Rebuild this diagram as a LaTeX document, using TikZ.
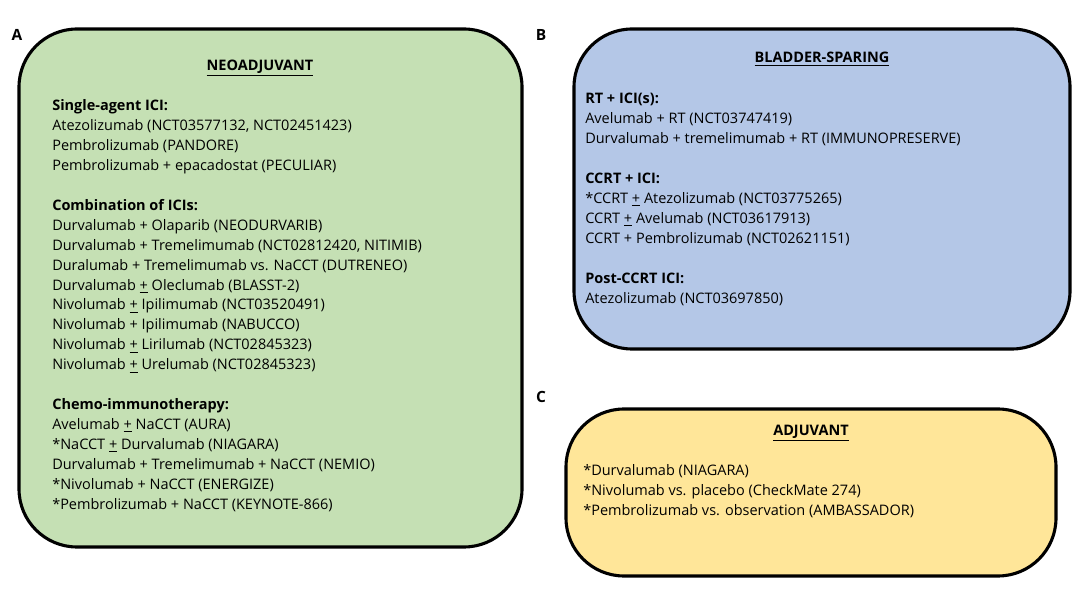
\documentclass[tikz,border=0pt]{standalone}
\usepackage{fontspec}
\setmainfont{Open Sans}
\usepackage{tikz}

\tikzset{
  panel/.style={draw=black, line width=2.2pt, rounded corners=1.45cm},
  paneltag/.style={font=\bfseries\fontsize{11}{13}\selectfont},
  heading/.style={font=\bfseries\fontsize{10.3}{14}\selectfont},
  trials/.style={anchor=north west, align=left, inner sep=0pt,
    font=\fontsize{10.3}{14.2}\selectfont}
}
\newcommand{\upm}{\underline{+}}
\newcommand{\hd}[1]{\textbf{#1}}

\begin{document}
\begin{tikzpicture}[x=0.025cm, y=-0.025cm]
  \useasboundingbox (0,0) rectangle (1080,590);

  % panels
  \path[panel, fill={rgb,255:red,197;green,224;blue,180}] (19,29) rectangle (522,547);
  \path[panel, fill={rgb,255:red,180;green,199;blue,231}] (574,29) rectangle (1070,349);
  \path[panel, fill={rgb,255:red,255;green,230;blue,153}] (566,409) rectangle (1056,576);

  \node[paneltag] (tA) at (17,35) {A};
  \node[paneltag] (tB) at (541,35) {B};
  \node[paneltag] (tC) at (541,397) {C};

  \node[heading] (hA) at (260,68) {\underline{NEOADJUVANT}};
  \node[heading] (hB) at (822,59) {\underline{BLADDER-SPARING}};
  \node[heading] (hC) at (811,433) {\underline{ADJUVANT}};

  % panel A
  \node[trials] (lA) at (52,99) {%
    \hd{Single-agent ICI:}\\
    Atezolizumab (NCT03577132, NCT02451423)\\
    Pembrolizumab (PANDORE)\\
    Pembrolizumab + epacadostat (PECULIAR)\\[14.2pt]
    \hd{Combination of ICIs:}\\
    Durvalumab + Olaparib (NEODURVARIB)\\
    Durvalumab + Tremelimumab (NCT02812420, NITIMIB)\\
    Duralumab + Tremelimumab vs. NaCCT (DUTRENEO)\\
    Durvalumab \upm{} Oleclumab (BLASST-2)\\
    Nivolumab \upm{} Ipilimumab (NCT03520491)\\
    Nivolumab + Ipilimumab (NABUCCO)\\
    Nivolumab \upm{} Lirilumab (NCT02845323)\\
    Nivolumab \upm{} Urelumab (NCT02845323)\\[14.2pt]
    \hd{Chemo-immunotherapy:}\\
    Avelumab \upm{} NaCCT (AURA)\\
    *NaCCT \upm{} Durvalumab (NIAGARA)\\
    Durvalumab + Tremelimumab + NaCCT (NEMIO)\\
    *Nivolumab + NaCCT (ENERGIZE)\\
    *Pembrolizumab + NaCCT (KEYNOTE-866)};

  % panel B
  \node[trials] (lB) at (585,93) {%
    \hd{RT + ICI(s):}\\
    Avelumab + RT (NCT03747419)\\
    Durvalumab + tremelimumab + RT (IMMUNOPRESERVE)\\[14.2pt]
    \hd{CCRT + ICI:}\\
    *CCRT \upm{} Atezolizumab (NCT03775265)\\
    CCRT \upm{} Avelumab (NCT03617913)\\
    CCRT + Pembrolizumab (NCT02621151)\\[14.2pt]
    \hd{Post-CCRT ICI:}\\
    Atezolizumab (NCT03697850)};

  % panel C
  \node[trials] (lC) at (583,464) {%
    *Durvalumab (NIAGARA)\\
    *Nivolumab vs. placebo (CheckMate 274)\\
    *Pembrolizumab vs. observation (AMBASSADOR)};
\end{tikzpicture}
\end{document}
